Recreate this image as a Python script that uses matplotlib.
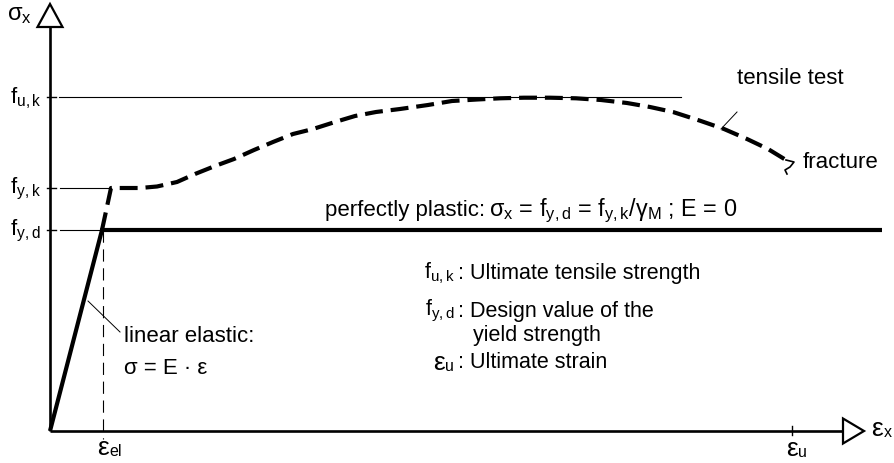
import numpy as np
import matplotlib
matplotlib.use("Agg")
import matplotlib.pyplot as plt
from matplotlib.patches import Polygon

plt.rcParams['font.family'] = ['Liberation Sans', 'DejaVu Sans']
plt.rcParams['mathtext.fontset'] = 'custom'
plt.rcParams['mathtext.rm'] = 'Liberation Sans'
plt.rcParams['mathtext.it'] = 'Liberation Sans:italic'
plt.rcParams['mathtext.default'] = 'regular'

### characteristic values (arbitrary units, origin = axis crossing)
f_uk = 334
f_yk = 243
f_yd = 201
eps_el = 52
eps_u = 742
eps_end = 832      # end of perfectly plastic line
x_axis_end = 793   # base of the x arrow head
y_axis_end = 404   # base of the y arrow head

### tensile test curve
tt_eps = [52, 61, 90, 107, 127, 145, 165, 184, 204, 223, 243, 263, 285, 305, 326,
          350, 378, 402, 427, 450, 474, 500, 526, 551, 577, 600, 623, 650, 674,
          697, 718, 736]
tt_sig = [201, 243, 243, 244.5, 249, 257, 265, 272, 281, 289, 297, 302, 309, 315, 319,
          322, 326, 330, 331.5, 332.7, 333.3, 333.3, 332.7, 331, 328, 324, 319, 310.3, 302,
          292, 282, 271]
# small squiggle marking fracture
fr_eps = [736, 744, 740, 735, 737]
fr_sig = [271, 269, 264, 261, 257]

fig = plt.figure(figsize=(8.95, 4.64), dpi=100)
ax = fig.add_axes([0, 0, 1, 1])
ax.set_xlim(-50, 845)
ax.set_ylim(-32, 432)
ax.axis('off')

fs = 16
fs_leg = 15.5


def eps_label(x, y, sub):
    # epsilon drawn a bit larger, like the symbol font of the sketch
    ax.text(x, y, 'ε', fontsize=19, va='center', ha='left')
    ax.text(x + 12.5, y - 4, sub, fontsize=11.5, va='center', ha='left')


# axes with hollow arrow heads
ax.plot([0, x_axis_end], [0, 0], color='k', lw=1.9, solid_capstyle='butt')
ax.plot([0, 0], [0, y_axis_end], color='k', lw=1.9, solid_capstyle='butt')
ax.add_patch(Polygon([[x_axis_end, 12.5], [x_axis_end + 21, 0], [x_axis_end, -12.5]],
                     closed=True, fill=False, ec='k', lw=1.6))
ax.add_patch(Polygon([[-12.5, y_axis_end], [0, y_axis_end + 23], [12.5, y_axis_end]],
                     closed=True, fill=False, ec='k', lw=1.6))

# ticks on axes
for v in [f_uk, f_yk, f_yd]:
    ax.plot([-3, 6], [v, v], color='k', lw=1.0)
ax.plot([eps_u, eps_u], [-4, 5], color='k', lw=1.0)

# thin reference lines
ax.plot([9, 631], [f_uk, f_uk], color='k', lw=0.8)
ax.plot([10, 61], [f_yk, f_yk], color='k', lw=0.8)
ax.plot([10, eps_el], [f_yd, f_yd], color='k', lw=0.8)
ax.plot([eps_el + 1, eps_el + 1], [f_yd, -8], color='k', lw=0.8, ls=(0, (11, 6)))

# linear elastic - perfectly plastic
ax.plot([0, eps_el, eps_end], [0, f_yd, f_yd], color='k', lw=3.0,
        solid_joinstyle='miter', solid_capstyle='butt')

# tensile test
ax.plot(tt_eps, tt_sig, color='k', lw=3.0, ls=(0, (4.3, 1.9)), dash_capstyle='butt')
ax.plot(fr_eps, fr_sig, color='k', lw=1.2)

# leader lines
ax.plot([38, 70], [130, 99], color='k', lw=0.7)
ax.plot([671, 687], [302, 319], color='k', lw=0.7)

# labels
ax.text(-43, 417, r'$σ_x$', fontsize=fs + 1, va='center', ha='left')
eps_label(821, 3, 'x')
ax.text(-40, f_uk, r'$f_{u,k}$', fontsize=fs, va='center', ha='left')
ax.text(-40, f_yk, r'$f_{y,k}$', fontsize=fs, va='center', ha='left')
ax.text(-40, f_yd, r'$f_{y,d}$', fontsize=fs, va='center', ha='left')
eps_label(eps_el - 5, -16, 'el')
eps_label(eps_u - 6, -17, 'u')

ax.text(687, 353, 'tensile test', fontsize=fs, va='center', ha='left')
ax.text(753, 269, 'fracture', fontsize=fs, va='center', ha='left')
ax.text(275, 221, 'perfectly plastic:', fontsize=fs, va='center', ha='left')
ax.text(439, 221, r'$σ_x$ = $f_{y,d}$ = $f_{y,k}$/$γ_M$ ; E = 0',
        fontsize=16.8, va='center', ha='left')
ax.text(74, 95, 'linear elastic:', fontsize=fs, va='center', ha='left')
ax.text(74, 63, 'σ = E · ε', fontsize=fs, va='center', ha='left')

ax.text(405, 159, r'$f_{u,k}$', fontsize=fs_leg, va='center', ha='right')
ax.text(408, 159, ': Ultimate tensile strength', fontsize=fs_leg, va='center', ha='left')
ax.text(405, 121, r'$f_{y,d}$', fontsize=fs_leg, va='center', ha='right')
ax.text(408, 121, ': Design value of the', fontsize=fs_leg, va='center', ha='left')
ax.text(423, 97, 'yield strength', fontsize=fs_leg, va='center', ha='left')
ax.text(383, 69, 'ε', fontsize=19, va='center', ha='left')
ax.text(395.5, 65, 'u', fontsize=11.5, va='center', ha='left')
ax.text(408, 69, ': Ultimate strain', fontsize=fs_leg, va='center', ha='left')

fig.savefig('out.png', dpi=100)
